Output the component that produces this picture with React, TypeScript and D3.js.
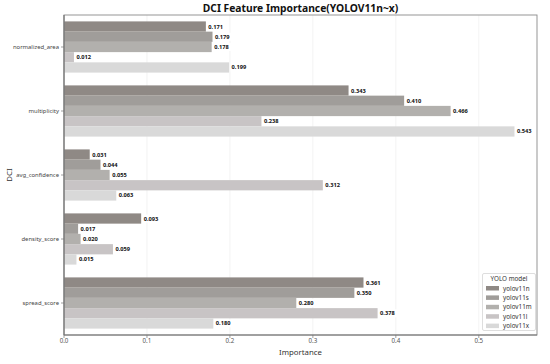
import React from "react";
import * as d3 from "d3";

const categories = ["normalized_area", "multiplicity", "avg_confidence", "density_score", "spread_score"];
const models = ["yolov11n", "yolov11s", "yolov11m", "yolov11l", "yolov11x"];
const yolov11n = [0.171, 0.343, 0.031, 0.093, 0.361];
const yolov11s = [0.179, 0.410, 0.044, 0.017, 0.350];
const yolov11m = [0.178, 0.466, 0.055, 0.020, 0.280];
const yolov11l = [0.012, 0.238, 0.312, 0.059, 0.378];
const yolov11x = [0.199, 0.543, 0.063, 0.015, 0.180];
const seriesValues = [yolov11n, yolov11s, yolov11m, yolov11l, yolov11x];
const xTicks = [0, 0.1, 0.2, 0.3, 0.4, 0.5];
const colors = ["#8f8985", "#a09d9a", "#b2b0ad", "#c8c4c5", "#d9d9d9"];

const W = 550, H = 364;
const M = { left: 64, right: 537, top: 15, bottom: 335 };
const FONT = "'Noto Sans', 'DejaVu Sans', sans-serif";

export default function App() {
  const maxV = d3.max(seriesValues.flat()) as number;
  const x = d3.scaleLinear().domain([0, maxV * 1.05]).range([M.left, M.right]);
  const y = d3.scaleLinear().domain([-0.5, categories.length - 0.5]).range([M.top, M.bottom]);
  const barH = y(0.16) - y(0);

  return (
    <svg width={W} height={H} style={{ position: "fixed", left: 0, top: 0, background: "#fff" }} fontFamily={FONT}>
      <rect x={0} y={0} width={W} height={H} fill="#fff" />
      {xTicks.map((t) => (
        <line key={"g" + t} x1={x(t)} x2={x(t)} y1={M.top} y2={M.bottom} stroke="#ebebeb" strokeWidth={0.6} />
      ))}
      {categories.map((c, i) =>
        seriesValues.map((vals, j) => {
          const v = vals[i];
          const y0 = y(i - 0.4 + j * 0.16);
          return (
            <rect key={c + j} x={x(0)} y={y0} width={x(v) - x(0)} height={barH} fill={colors[j]} />
          );
        })
      )}
      {categories.map((c, i) =>
        seriesValues.map((vals, j) => {
          const v = vals[i];
          const cy = y(i - 0.4 + j * 0.16) + barH / 2;
          const tx = x(v) + 2.5;
          return (
            <g key={"l" + c + j}>
              <rect x={tx - 1} y={cy - 4} width={20} height={8} fill="#fff" />
              <text x={tx} y={cy} dy="0.35em" fontSize={5.7} fontWeight="bold" fill="#111">
                {v.toFixed(3)}
              </text>
            </g>
          );
        })
      )}
      <rect x={M.left} y={M.top} width={M.right - M.left} height={M.bottom - M.top} fill="none" stroke="#8a8a8a" strokeWidth={0.9} />
      <line x1={M.left} x2={M.left} y1={M.top} y2={M.bottom} stroke="#777" strokeWidth={1.2} />
      <line x1={M.left} x2={M.right} y1={M.bottom} y2={M.bottom} stroke="#777" strokeWidth={1.2} />
      {xTicks.map((t) => (
        <g key={"xt" + t}>
          <line x1={x(t)} x2={x(t)} y1={M.bottom} y2={M.bottom + 3} stroke="#777" strokeWidth={0.7} />
          <text x={x(t)} y={M.bottom + 8} textAnchor="middle" fontSize={6.2} fill="#555">
            {t.toFixed(1)}
          </text>
        </g>
      ))}
      {categories.map((c, i) => (
        <g key={"yt" + c}>
          <line x1={M.left - 3} x2={M.left} y1={y(i)} y2={y(i)} stroke="#777" strokeWidth={0.7} />
          <text x={M.left - 5} y={y(i)} dy="0.35em" textAnchor="end" fontSize={5.9} fill="#444">
            {c}
          </text>
        </g>
      ))}
      <text x={(M.left + M.right) / 2} y={355} textAnchor="middle" fontSize={7.8} fill="#333">Importance</text>
      <text transform={`translate(12,${(M.top + M.bottom) / 2}) rotate(-90)`} textAnchor="middle" fontSize={7.8} fill="#333">DCI</text>
      <text x={(M.left + M.right) / 2} y={11.5} textAnchor="middle" fontSize={10.3} fontWeight="bold" fill="#111">
        DCI Feature Importance(YOLOV11n~x)
      </text>
      <g>
        <rect x={482.5} y={273.5} width={53} height={57} fill="#fff" stroke="#d0d0d0" strokeWidth={0.7} rx={1.5} />
        <text x={509} y={281} textAnchor="middle" fontSize={6.3} fill="#333">YOLO model</text>
        {models.map((m, j) => (
          <g key={m}>
            <rect x={486} y={286 + j * 9.4} width={13} height={4.5} fill={colors[j]} />
            <text x={503} y={288.3 + j * 9.4} dy="0.35em" fontSize={6.3} fill="#333">{m}</text>
          </g>
        ))}
      </g>
    </svg>
  );
}
